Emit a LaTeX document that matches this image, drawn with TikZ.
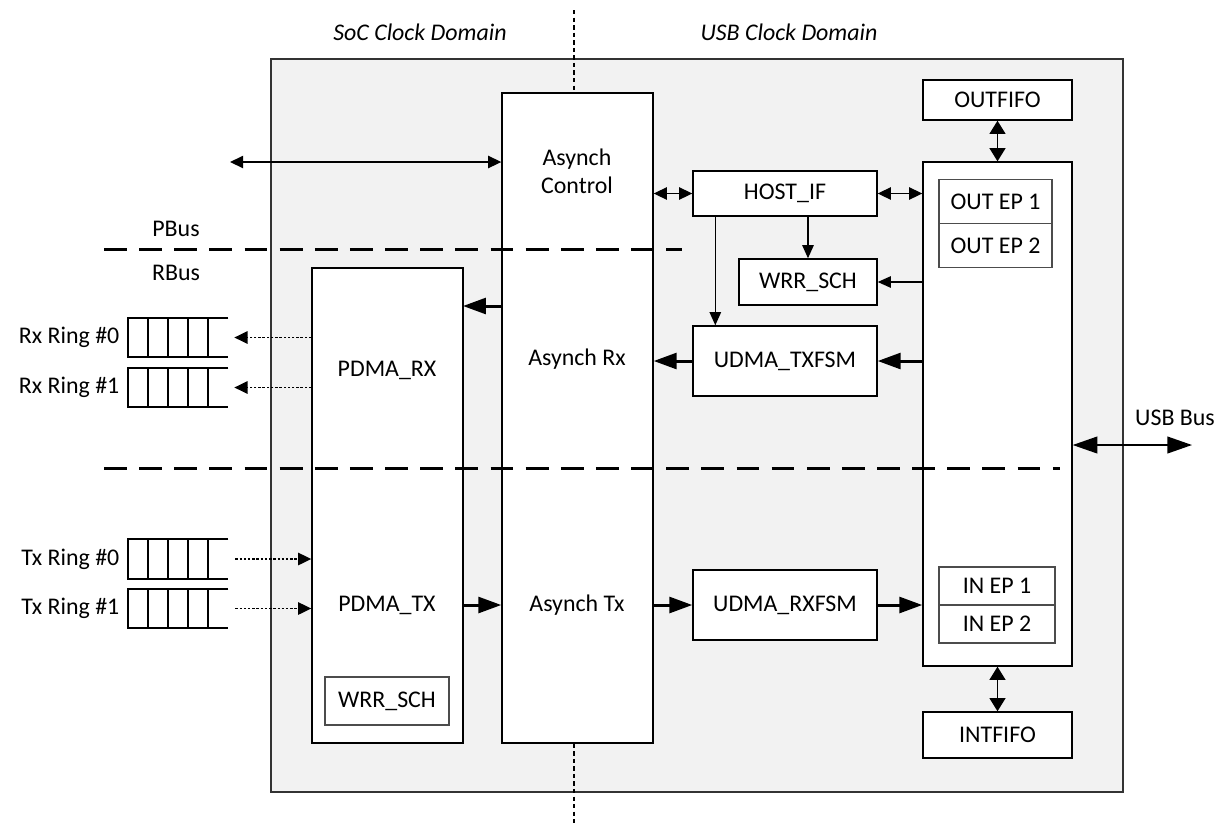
\documentclass[tikz,border=0pt]{standalone}
\usepackage{fontspec}
\setmainfont{Carlito}
\usetikzlibrary{arrows.meta,positioning,calc}

\definecolor{domaingray}{RGB}{242,242,242}

\tikzset{
  blk/.style={draw, fill=white, line width=0.8pt, inner sep=0pt},
  subblk/.style={draw=black!70, fill=white, line width=0.6pt, inner sep=0pt, outer sep=0pt},
  lbl/.style={inner sep=0pt, align=center},
  ring/.style={minimum width=2cm, minimum height=0.78cm, inner sep=0pt},
  sigarr/.style={line width=0.8pt, -{Triangle[length=7.5pt,width=6.5pt]}},
  ctlarr/.style={line width=0.8pt, {Triangle[length=7.5pt,width=7pt]}-{Triangle[length=7.5pt,width=7pt]}},
  fifoarr/.style={line width=1pt, {Triangle[length=7.5pt,width=9pt]}-{Triangle[length=7.5pt,width=9pt]}},
  datarr/.style={line width=1.7pt, -{Triangle[length=13pt,width=9pt]}},
  usbarr/.style={line width=1pt, {Triangle[length=14pt,width=9.5pt]}-{Triangle[length=14pt,width=9.5pt]}},
  ringarr/.style={line width=1pt, dash pattern=on 1.4pt off 1pt, -{Triangle[length=7.5pt,width=7pt]}},
  busline/.style={line width=1.7pt, dash pattern=on 13pt off 7pt},
  clkline/.style={line width=1.4pt, dash pattern=on 2.5pt off 1.8pt}
}

\begin{document}
\begin{tikzpicture}[x=0.02cm, y=-0.02cm, font=\fontsize{13.6}{16}\selectfont]
  \useasboundingbox (0,0) rectangle (1225,823);

  % clock domains
  \draw[draw=black!80, fill=domaingray, line width=0.6pt] (271,59) rectangle (1123,792);
  \node[lbl] (soc) at (420,32) {\itshape SoC Clock Domain};
  \node[lbl] (usbclk) at (789,32) {\itshape USB Clock Domain};
  \coordinate (ctop) at (574,10);
  \coordinate (cbot) at (574,823);

  % SoC side
  \node[blk, minimum width=3.02cm, minimum height=13cm] (async) at (577.5,418) {};
  \node[blk, minimum width=3.02cm, minimum height=9.5cm] (pdma) at (387.5,505.5) {};
  \node[subblk, minimum width=2.48cm, minimum height=0.96cm] (wrrp) at (387,701) {WRR\_SCH};
  \node[lbl] (actl) at (577,171) {Asynch\\Control};
  \node[lbl] (arx)  at (577,359) {Asynch Rx};
  \node[lbl] (atx)  at (577,605) {Asynch Tx};
  \node[lbl] (prx)  at (387,370) {PDMA\_RX};
  \node[lbl] (ptx)  at (387,605) {PDMA\_TX};

  % USB side
  \node[blk, minimum width=3.68cm, minimum height=0.9cm]  (host)  at (785,193.5) {HOST\_IF};
  \node[blk, minimum width=2.76cm, minimum height=0.92cm] (wrru)  at (808,282)   {WRR\_SCH};
  \node[blk, minimum width=3.68cm, minimum height=1.4cm]  (txfsm) at (785,361)   {UDMA\_TXFSM};
  \node[blk, minimum width=3.68cm, minimum height=1.4cm]  (rxfsm) at (785,605)   {UDMA\_RXFSM};
  \node[blk, minimum width=2.98cm, minimum height=0.8cm]  (outfifo) at (997.5,100) {OUTFIFO};
  \node[blk, minimum width=2.98cm, minimum height=10.08cm] (ep) at (997.5,414) {};
  \node[subblk, minimum width=2.26cm, minimum height=0.88cm] (oep1) at (995.5,201.5) {OUT EP 1};
  \node[subblk, minimum width=2.26cm, minimum height=0.88cm, below=0pt of oep1] (oep2) {OUT EP 2};
  \node[subblk, minimum width=2.32cm, minimum height=0.76cm] (iep1) at (997,586) {IN EP 1};
  \node[subblk, minimum width=2.32cm, minimum height=0.76cm, below=0pt of iep1] (iep2) {IN EP 2};
  \node[blk, minimum width=2.98cm, minimum height=0.92cm] (intfifo) at (997.5,735) {INTFIFO};

  % rings
  \node[ring] (rx0) at (178,337.5) {};
  \node[ring] (rx1) at (178,387.5) {};
  \node[ring] (tx0) at (178,559) {};
  \node[ring] (tx1) at (178,608.5) {};
  \node[left=0.16cm of rx0, inner sep=0pt] (lrx0) {Rx Ring \#0};
  \node[left=0.16cm of rx1, inner sep=0pt] (lrx1) {Rx Ring \#1};
  \node[left=0.16cm of tx0, inner sep=0pt] (ltx0) {Tx Ring \#0};
  \node[left=0.16cm of tx1, inner sep=0pt] (ltx1) {Tx Ring \#1};
  \foreach \r in {rx0,rx1,tx0,tx1}{
    \draw[line width=1pt] (\r.north east) -- (\r.north west) -- (\r.south west) -- (\r.south east);
    \foreach \k in {1,...,4}
      \draw[line width=1pt] ($(\r.north west)!\k/5!(\r.north east)$) -- ($(\r.south west)!\k/5!(\r.south east)$);
  }

  % buses
  \node[lbl] (pbus) at (176,229) {PBus};
  \node[lbl] (rbus) at (176,273) {RBus};
  \node[lbl] (usb) at (1175,418) {USB Bus};
  \coordinate (pb0) at (104,249);
  \coordinate (pb1) at (682,249);
  \coordinate (rb0) at (104,468);
  \coordinate (rb1) at (1060,468);
  \coordinate (pbusl) at (230,162);
  \coordinate (usbr) at (1192,445);
  \coordinate (rin) at (463,306);

  \draw[busline] (pb0) -- (pb1);
  \draw[busline] (rb0) -- (rb1);
  \draw[clkline] (ctop) -- (async.north -| ctop);
  \draw[clkline] (async.south -| ctop) -- (cbot);

  % connections
  \draw[ctlarr] (pbusl) -- (async.west |- pbusl);
  \draw[ctlarr] (async.east |- host) -- (host.west);
  \draw[ctlarr] (host.east) -- (ep.west |- host);
  \draw[sigarr] (host.south -| wrru) -- (wrru.north);
  \draw[sigarr] ([xshift=0.46cm]host.south west) -- ([xshift=0.46cm]txfsm.north west);
  \draw[sigarr] (ep.west |- wrru) -- (wrru.east);
  \draw[datarr] (ep.west |- txfsm) -- (txfsm.east);
  \draw[datarr] (txfsm.west) -- (async.east |- txfsm);
  \draw[datarr] (async.west |- rin) -- (rin);
  \draw[ringarr] (pdma.west |- rx0) -- ([xshift=0.12cm]rx0.east);
  \draw[ringarr] (pdma.west |- rx1) -- ([xshift=0.12cm]rx1.east);
  \draw[ringarr] ([xshift=0.14cm]tx0.east) -- (pdma.west |- tx0);
  \draw[ringarr] ([xshift=0.14cm]tx1.east) -- (pdma.west |- tx1);
  \draw[datarr] (pdma.east |- ptx) -- (async.west |- ptx);
  \draw[datarr] (async.east |- rxfsm) -- (rxfsm.west);
  \draw[datarr] (rxfsm.east) -- (ep.west |- rxfsm);
  \draw[fifoarr] (outfifo.south) -- (ep.north);
  \draw[fifoarr] (ep.south) -- (intfifo.north);
  \draw[usbarr] (ep.east |- usbr) -- (usbr);
\end{tikzpicture}
\end{document}
